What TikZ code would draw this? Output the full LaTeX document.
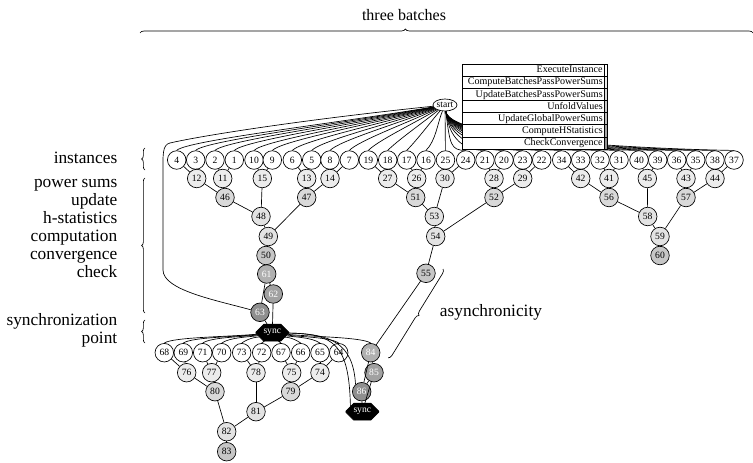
\documentclass[tikz,border=0pt]{standalone}
\usepackage{fontspec}
\setmainfont{Liberation Serif}
\usepackage{xcolor}
\usetikzlibrary{shapes.geometric, arrows}
\usetikzlibrary{positioning, shapes, shapes.misc}
\usetikzlibrary{decorations.pathreplacing}
\usetikzlibrary{calc}
\tikzstyle{link} = [line width=0.5pt]
\tikzstyle{inst} = [draw, circle, fill=white, line width=0.5pt, minimum size=13.9pt, inner sep=0pt, font=\fontsize{7.2}{8}\selectfont]
\tikzstyle{pass} = [inst, fill=gray!15]
\tikzstyle{upd} = [inst, fill=gray!30]
\tikzstyle{unf} = [inst, fill=gray!22]
\tikzstyle{glob} = [inst, fill=gray!45]
\tikzstyle{hstat} = [inst, fill=gray!62, text=white]
\tikzstyle{conv} = [inst, fill=gray!74, text=white]
\tikzstyle{chk} = [inst, fill=gray!88, text=white]
\tikzstyle{syncbox} = [chamfered rectangle, chamfered rectangle xsep=3.5pt, chamfered rectangle ysep=3.5pt, draw, fill=black, text=white, minimum width=24.75pt, minimum height=12.75pt, inner sep=0pt, font=\fontsize{7.2}{8}\selectfont]
\tikzstyle{startnode} = [draw, ellipse, fill=white, line width=0.5pt, minimum width=18pt, minimum height=9pt, inner sep=0pt, font=\fontsize{7.2}{8}\selectfont]
\tikzstyle{legrow} = [draw, fill=white, line width=0.5pt, text width=104.5pt, inner xsep=1pt, inner ysep=0pt, minimum height=9.1pt, text height=5.6pt, text depth=1.5pt, align=right, font=\fontsize{7.55}{9}\selectfont]
\tikzstyle{legkey} = [draw, line width=0.5pt, minimum width=2.25pt, minimum height=9.1pt, inner sep=0pt]
\tikzstyle{curly} = [decorate, decoration={brace, amplitude=2.5pt}, line width=0.5pt]
\tikzstyle{sidelabel} = [anchor=east, align=right, font=\fontsize{13}{13.5}\selectfont]

\begin{document}
\begin{tikzpicture}[x=0.75pt, y=0.75pt]
        \useasboundingbox (0,0) rectangle (753,-463);
        \node (start) [startnode] at (445,-105) {start};

        % first batch
        \foreach \n/\x in {4/176.7,3/195.7,2/215,1/234.3,10/254,9/272.3,6/292.3,5/311.7,8/330,7/349.3,19/368.3,18/387.7,17/406.7,16/426,25/445.5,24/465.7,21/485,20/504,23/522.7,22/541.7,34/561.7,33/580.7,32/600,31/619,40/639,39/657.7,36/676.7,35/695.7,38/715,37/734}
            \node (n\n) [inst] at (\x,-160) {\n};
        \foreach \n/\x in {12/196.7,11/222.7,15/262.3,13/306.7,14/330,27/387.7,26/416.7,30/445,28/494,29/522.7,42/580.7,41/609,45/647.3,43/686,44/715}
            \node (n\n) [pass] at (\x,-178.5) {\n};
        \foreach \n/\x in {46/225,47/306.7,51/415.7,52/494,56/609,57/686}
            \node (n\n) [upd] at (\x,-197.5) {\n};
        \foreach \n/\x in {48/261,53/434.3,58/647.7}
            \node (n\n) [unf] at (\x,-216.5) {\n};
        \foreach \n/\x in {49/268.3,54/435.7,59/660}
            \node (n\n) [unf] at (\x,-236.5) {\n};
        \node (n50) [glob] at (266,-255.5) {50};
        \node (n60) [glob] at (660,-255.5) {60};
        \node (n55) [glob] at (426,-273.3) {55};
        \node (n61) [hstat] at (266.7,-274) {61};
        \node (n62) [conv] at (273.3,-294) {62};
        \node (n63) [chk] at (260,-312.3) {63};
        \node (sync) [syncbox] at (272.3,-332.7) {sync};

        % second batch
        \foreach \n/\x in {68/164.3,69/183.3,71/202.7,70/221.7,73/241.7,72/261.7,67/281,66/300.7,65/320,64/338.7}
            \node (n\n) [inst] at (\x,-352.7) {\n};
        \foreach \n/\x in {76/186.7,77/211.7,78/256,75/291.7,74/320}
            \node (n\n) [pass] at (\x,-372.7) {\n};
        \node (n80) [upd] at (215,-391.7) {80};
        \node (n79) [upd] at (290.7,-391.7) {79};
        \node (n81) [unf] at (256,-411.7) {81};
        \node (n82) [unf] at (226.7,-431.7) {82};
        \node (n83) [glob] at (226.7,-451.7) {83};
        \node (n84) [hstat] at (370.7,-352.7) {84};
        \node (n85) [conv] at (374,-372.7) {85};
        \node (n86) [chk] at (361.7,-391.7) {86};
        \node (synctwo) [syncbox] at (362.3,-411.7) {sync};

        % start to instances
        \foreach \n in {4,3,2,1,10,9,6,5,8,7,19,18,17,16}
            \draw [link] (start) .. controls ($(start)!0.4!(n\n.north)$) and ($(n\n.north)+(10,10)$) .. (n\n.north);
        \draw [link] (start) -- (n25);
        \foreach \n in {24,21,20,23,22,34,33,32,31,40,39,36,35,38,37}
            \draw [link] (start) .. controls ($(start)+(5,-40)$) and ($(n\n.north)+(-15,0)$) .. (n\n.north);
        \draw [link] (start) .. controls (300,-120) and (200,-136) .. (170,-143) .. controls (162,-144.9) and (163,-155) .. (163,-175) -- (163,-270) .. controls (163,-290) and (215,-300) .. (n63);

        % sync to instances
        \foreach \n in {68,69,71,70,73,72}
            \draw [link] (sync) .. controls ($(sync)!0.4!(n\n.north)$) and ($(n\n.north)+(8,6)$) .. (n\n.north);
        \foreach \n in {67,66,65,64,84}
            \draw [link] (sync) .. controls ($(sync)!0.4!(n\n.north)$) and ($(n\n.north)+(-8,6)$) .. (n\n.north);
        \draw [link] (sync) .. controls (330,-334) and (353,-342) .. (n86.130);
        \draw [link] (sync) .. controls (335,-334) and (349,-345) .. (synctwo.155);

        % tree edges
        \foreach \a/\b in {4/12,3/12,2/11,1/11,10/15,9/15,6/13,5/13,8/14,7/14,19/27,18/27,17/26,16/26,25/30,24/30,21/28,20/28,23/29,22/29,34/42,33/42,32/41,31/41,40/45,39/45,36/43,35/43,38/44,37/44,
            12/46,11/46,13/47,14/47,27/51,26/51,28/52,29/52,42/56,41/56,43/57,44/57,
            46/48,15/48,51/53,30/53,56/58,45/58,48/49,47/49,53/54,52/54,58/59,57/59,
            49/50,54/55,59/60,50/61,61/62,61/63,55/84,
            68/76,69/76,71/77,70/77,73/78,72/78,67/75,66/75,65/74,64/74,
            76/80,77/80,75/79,74/79,78/81,79/81,80/82,81/82,82/83,84/85,84/86,85/86}
            \draw [link] (n\a) -- (n\b);
        \draw [link] (n62) -- (sync);
        \draw [link] (n63) -- (sync);
        \draw [link] (n85) -- (synctwo);
        \draw [link] (n86) -- (synctwo);

        % legend
        \foreach \lbl/\shade [count=\r] in {ExecuteInstance/white, ComputeBatchesPassPowerSums/gray!15, UpdateBatchesPassPowerSums/gray!30, UnfoldValues/gray!40, UpdateGlobalPowerSums/gray!52, ComputeHStatistics/gray!68, CheckConvergence/gray!85}{
            \node (l\r) [legrow] at (533,{-70.1-12.14*(\r-1)}) {\lbl};
            \node (k\r) [legkey, fill=\shade, right=0pt of l\r] {};
        }

        % braces and labels
        \draw [curly, decoration={brace, amplitude=3pt, aspect=0.433}] (140,-33) -- (753,-33);
        \node (batches) [font=\fontsize{12}{13}\selectfont] at (404,-15) {three batches};
        \draw [curly] (145,-170) -- (145,-148);
        \node (instlbl) [sidelabel] at (122,-158) {instances};
        \draw [curly] (145,-313) -- (145,-178);
        \node (stagelbl) [sidelabel] at (122,-229) {power sums\\update\\h-statistics\\computation\\convergence\\check};
        \draw [curly] (145,-343) -- (145,-320);
        \node (synclbl) [sidelabel] at (122,-330) {synchronization\\point};
        \draw [curly, decoration={brace, amplitude=3pt}] (443,-269) -- (388,-358);
        \node (asynclbl) [font=\fontsize{13}{13.5}\selectfont] at (491,-312.7) {asynchronicity};

      \end{tikzpicture}
\end{document}
